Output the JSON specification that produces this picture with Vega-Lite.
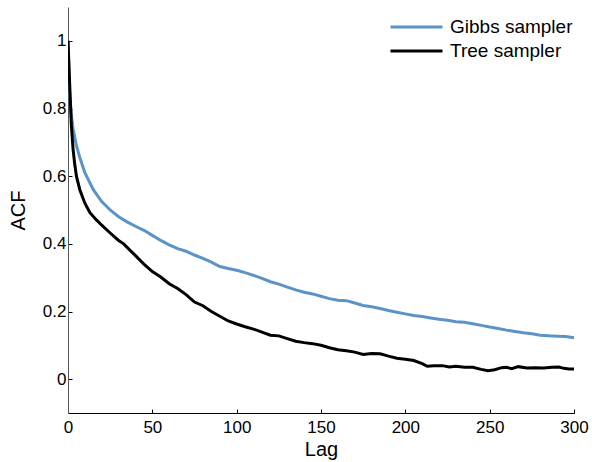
{
  "$schema": "https://vega.github.io/schema/vega-lite/v6.json",
  "width": 506,
  "height": 406,
  "autosize": {"type": "none"},
  "padding": {"left": 68, "top": 7, "right": 18, "bottom": 49},
  "background": "white",
  "config": {
    "view": {"stroke": null},
    "font": "Liberation Sans",
    "axis": {
      "grid": false,
      "domainColor": "#000000",
      "domainWidth": 1,
      "tickColor": "#000000",
      "tickSize": -4,
      "labelFontSize": 17,
      "labelColor": "#000000",
      "titleFontSize": 20,
      "titleFontWeight": "normal",
      "titleColor": "#000000",
      "labelFont": "Liberation Sans",
      "titleFont": "Liberation Sans"
    }
  },
  "data": {
    "values": [
      {"lag": 0, "acf": 1.0, "s": "Gibbs sampler"},
      {"lag": 1, "acf": 0.84, "s": "Gibbs sampler"},
      {"lag": 2, "acf": 0.78, "s": "Gibbs sampler"},
      {"lag": 3, "acf": 0.74, "s": "Gibbs sampler"},
      {"lag": 5, "acf": 0.69, "s": "Gibbs sampler"},
      {"lag": 7, "acf": 0.655, "s": "Gibbs sampler"},
      {"lag": 10, "acf": 0.61, "s": "Gibbs sampler"},
      {"lag": 15, "acf": 0.56, "s": "Gibbs sampler"},
      {"lag": 20, "acf": 0.525, "s": "Gibbs sampler"},
      {"lag": 25, "acf": 0.5, "s": "Gibbs sampler"},
      {"lag": 30, "acf": 0.48, "s": "Gibbs sampler"},
      {"lag": 35, "acf": 0.465, "s": "Gibbs sampler"},
      {"lag": 40, "acf": 0.452, "s": "Gibbs sampler"},
      {"lag": 45, "acf": 0.44, "s": "Gibbs sampler"},
      {"lag": 50, "acf": 0.425, "s": "Gibbs sampler"},
      {"lag": 55, "acf": 0.41, "s": "Gibbs sampler"},
      {"lag": 60, "acf": 0.397, "s": "Gibbs sampler"},
      {"lag": 65, "acf": 0.386, "s": "Gibbs sampler"},
      {"lag": 70, "acf": 0.378, "s": "Gibbs sampler"},
      {"lag": 75, "acf": 0.367, "s": "Gibbs sampler"},
      {"lag": 80, "acf": 0.357, "s": "Gibbs sampler"},
      {"lag": 85, "acf": 0.346, "s": "Gibbs sampler"},
      {"lag": 90, "acf": 0.333, "s": "Gibbs sampler"},
      {"lag": 95, "acf": 0.327, "s": "Gibbs sampler"},
      {"lag": 100, "acf": 0.322, "s": "Gibbs sampler"},
      {"lag": 105, "acf": 0.315, "s": "Gibbs sampler"},
      {"lag": 110, "acf": 0.307, "s": "Gibbs sampler"},
      {"lag": 115, "acf": 0.298, "s": "Gibbs sampler"},
      {"lag": 120, "acf": 0.288, "s": "Gibbs sampler"},
      {"lag": 125, "acf": 0.281, "s": "Gibbs sampler"},
      {"lag": 130, "acf": 0.272, "s": "Gibbs sampler"},
      {"lag": 135, "acf": 0.264, "s": "Gibbs sampler"},
      {"lag": 140, "acf": 0.257, "s": "Gibbs sampler"},
      {"lag": 145, "acf": 0.252, "s": "Gibbs sampler"},
      {"lag": 150, "acf": 0.245, "s": "Gibbs sampler"},
      {"lag": 155, "acf": 0.238, "s": "Gibbs sampler"},
      {"lag": 160, "acf": 0.233, "s": "Gibbs sampler"},
      {"lag": 165, "acf": 0.232, "s": "Gibbs sampler"},
      {"lag": 170, "acf": 0.225, "s": "Gibbs sampler"},
      {"lag": 175, "acf": 0.218, "s": "Gibbs sampler"},
      {"lag": 180, "acf": 0.214, "s": "Gibbs sampler"},
      {"lag": 185, "acf": 0.209, "s": "Gibbs sampler"},
      {"lag": 190, "acf": 0.203, "s": "Gibbs sampler"},
      {"lag": 195, "acf": 0.198, "s": "Gibbs sampler"},
      {"lag": 200, "acf": 0.193, "s": "Gibbs sampler"},
      {"lag": 205, "acf": 0.188, "s": "Gibbs sampler"},
      {"lag": 210, "acf": 0.185, "s": "Gibbs sampler"},
      {"lag": 215, "acf": 0.181, "s": "Gibbs sampler"},
      {"lag": 220, "acf": 0.177, "s": "Gibbs sampler"},
      {"lag": 225, "acf": 0.174, "s": "Gibbs sampler"},
      {"lag": 230, "acf": 0.17, "s": "Gibbs sampler"},
      {"lag": 235, "acf": 0.168, "s": "Gibbs sampler"},
      {"lag": 240, "acf": 0.164, "s": "Gibbs sampler"},
      {"lag": 245, "acf": 0.159, "s": "Gibbs sampler"},
      {"lag": 250, "acf": 0.154, "s": "Gibbs sampler"},
      {"lag": 255, "acf": 0.15, "s": "Gibbs sampler"},
      {"lag": 260, "acf": 0.145, "s": "Gibbs sampler"},
      {"lag": 265, "acf": 0.141, "s": "Gibbs sampler"},
      {"lag": 270, "acf": 0.137, "s": "Gibbs sampler"},
      {"lag": 275, "acf": 0.134, "s": "Gibbs sampler"},
      {"lag": 280, "acf": 0.13, "s": "Gibbs sampler"},
      {"lag": 285, "acf": 0.128, "s": "Gibbs sampler"},
      {"lag": 290, "acf": 0.127, "s": "Gibbs sampler"},
      {"lag": 295, "acf": 0.126, "s": "Gibbs sampler"},
      {"lag": 298, "acf": 0.124, "s": "Gibbs sampler"},
      {"lag": 300, "acf": 0.122, "s": "Gibbs sampler"},
      {"lag": 0, "acf": 1.0, "s": "Tree sampler"},
      {"lag": 1, "acf": 0.87, "s": "Tree sampler"},
      {"lag": 2, "acf": 0.75, "s": "Tree sampler"},
      {"lag": 3, "acf": 0.68, "s": "Tree sampler"},
      {"lag": 4, "acf": 0.635, "s": "Tree sampler"},
      {"lag": 5, "acf": 0.6, "s": "Tree sampler"},
      {"lag": 7, "acf": 0.56, "s": "Tree sampler"},
      {"lag": 10, "acf": 0.52, "s": "Tree sampler"},
      {"lag": 13, "acf": 0.492, "s": "Tree sampler"},
      {"lag": 17, "acf": 0.47, "s": "Tree sampler"},
      {"lag": 20, "acf": 0.455, "s": "Tree sampler"},
      {"lag": 25, "acf": 0.432, "s": "Tree sampler"},
      {"lag": 30, "acf": 0.41, "s": "Tree sampler"},
      {"lag": 33, "acf": 0.4, "s": "Tree sampler"},
      {"lag": 37, "acf": 0.38, "s": "Tree sampler"},
      {"lag": 40, "acf": 0.365, "s": "Tree sampler"},
      {"lag": 45, "acf": 0.34, "s": "Tree sampler"},
      {"lag": 50, "acf": 0.318, "s": "Tree sampler"},
      {"lag": 55, "acf": 0.302, "s": "Tree sampler"},
      {"lag": 60, "acf": 0.282, "s": "Tree sampler"},
      {"lag": 65, "acf": 0.268, "s": "Tree sampler"},
      {"lag": 70, "acf": 0.25, "s": "Tree sampler"},
      {"lag": 75, "acf": 0.228, "s": "Tree sampler"},
      {"lag": 80, "acf": 0.217, "s": "Tree sampler"},
      {"lag": 85, "acf": 0.2, "s": "Tree sampler"},
      {"lag": 90, "acf": 0.186, "s": "Tree sampler"},
      {"lag": 95, "acf": 0.172, "s": "Tree sampler"},
      {"lag": 100, "acf": 0.163, "s": "Tree sampler"},
      {"lag": 105, "acf": 0.155, "s": "Tree sampler"},
      {"lag": 110, "acf": 0.148, "s": "Tree sampler"},
      {"lag": 115, "acf": 0.139, "s": "Tree sampler"},
      {"lag": 120, "acf": 0.13, "s": "Tree sampler"},
      {"lag": 125, "acf": 0.128, "s": "Tree sampler"},
      {"lag": 130, "acf": 0.12, "s": "Tree sampler"},
      {"lag": 135, "acf": 0.112, "s": "Tree sampler"},
      {"lag": 140, "acf": 0.108, "s": "Tree sampler"},
      {"lag": 145, "acf": 0.105, "s": "Tree sampler"},
      {"lag": 150, "acf": 0.1, "s": "Tree sampler"},
      {"lag": 155, "acf": 0.093, "s": "Tree sampler"},
      {"lag": 160, "acf": 0.087, "s": "Tree sampler"},
      {"lag": 165, "acf": 0.084, "s": "Tree sampler"},
      {"lag": 170, "acf": 0.08, "s": "Tree sampler"},
      {"lag": 175, "acf": 0.073, "s": "Tree sampler"},
      {"lag": 180, "acf": 0.076, "s": "Tree sampler"},
      {"lag": 185, "acf": 0.075, "s": "Tree sampler"},
      {"lag": 190, "acf": 0.068, "s": "Tree sampler"},
      {"lag": 195, "acf": 0.062, "s": "Tree sampler"},
      {"lag": 200, "acf": 0.059, "s": "Tree sampler"},
      {"lag": 205, "acf": 0.055, "s": "Tree sampler"},
      {"lag": 210, "acf": 0.046, "s": "Tree sampler"},
      {"lag": 213, "acf": 0.038, "s": "Tree sampler"},
      {"lag": 217, "acf": 0.04, "s": "Tree sampler"},
      {"lag": 222, "acf": 0.04, "s": "Tree sampler"},
      {"lag": 226, "acf": 0.036, "s": "Tree sampler"},
      {"lag": 230, "acf": 0.038, "s": "Tree sampler"},
      {"lag": 235, "acf": 0.035, "s": "Tree sampler"},
      {"lag": 240, "acf": 0.035, "s": "Tree sampler"},
      {"lag": 245, "acf": 0.029, "s": "Tree sampler"},
      {"lag": 249, "acf": 0.025, "s": "Tree sampler"},
      {"lag": 253, "acf": 0.028, "s": "Tree sampler"},
      {"lag": 257, "acf": 0.034, "s": "Tree sampler"},
      {"lag": 260, "acf": 0.035, "s": "Tree sampler"},
      {"lag": 263, "acf": 0.031, "s": "Tree sampler"},
      {"lag": 267, "acf": 0.037, "s": "Tree sampler"},
      {"lag": 272, "acf": 0.033, "s": "Tree sampler"},
      {"lag": 277, "acf": 0.034, "s": "Tree sampler"},
      {"lag": 282, "acf": 0.033, "s": "Tree sampler"},
      {"lag": 287, "acf": 0.035, "s": "Tree sampler"},
      {"lag": 291, "acf": 0.036, "s": "Tree sampler"},
      {"lag": 294, "acf": 0.032, "s": "Tree sampler"},
      {"lag": 297, "acf": 0.03, "s": "Tree sampler"},
      {"lag": 300, "acf": 0.03, "s": "Tree sampler"}
    ]
  },
  "mark": {"type": "line", "strokeWidth": 3, "clip": true},
  "encoding": {
    "x": {
      "field": "lag",
      "type": "quantitative",
      "scale": {"domain": [0, 300], "nice": false, "zero": false},
      "axis": {"title": "Lag", "values": [0, 50, 100, 150, 200, 250, 300], "labelPadding": 10, "titlePadding": 4, "labelFlush": false}
    },
    "y": {
      "field": "acf",
      "type": "quantitative",
      "scale": {"domain": [-0.1, 1.1], "nice": false, "zero": false},
      "axis": {"title": "ACF", "values": [0, 0.2, 0.4, 0.6, 0.8, 1], "format": ".1~f", "labelPadding": 6, "titlePadding": 14, "domainColor": "#555555", "labelFlush": false}
    },
    "color": {
      "field": "s",
      "type": "nominal",
      "scale": {"domain": ["Gibbs sampler", "Tree sampler"], "range": ["#5b93c8", "#000000"]},
      "legend": {
        "title": null,
        "orient": "none",
        "legendX": 321,
        "legendY": 11,
        "symbolType": "stroke",
        "symbolSize": 2700,
        "symbolStrokeWidth": 3,
        "clipHeight": 18,
        "labelFontSize": 19,
        "labelColor": "#000000",
        "labelFont": "Liberation Sans",
        "rowPadding": 5,
        "labelOffset": 6
      }
    }
  }
}
